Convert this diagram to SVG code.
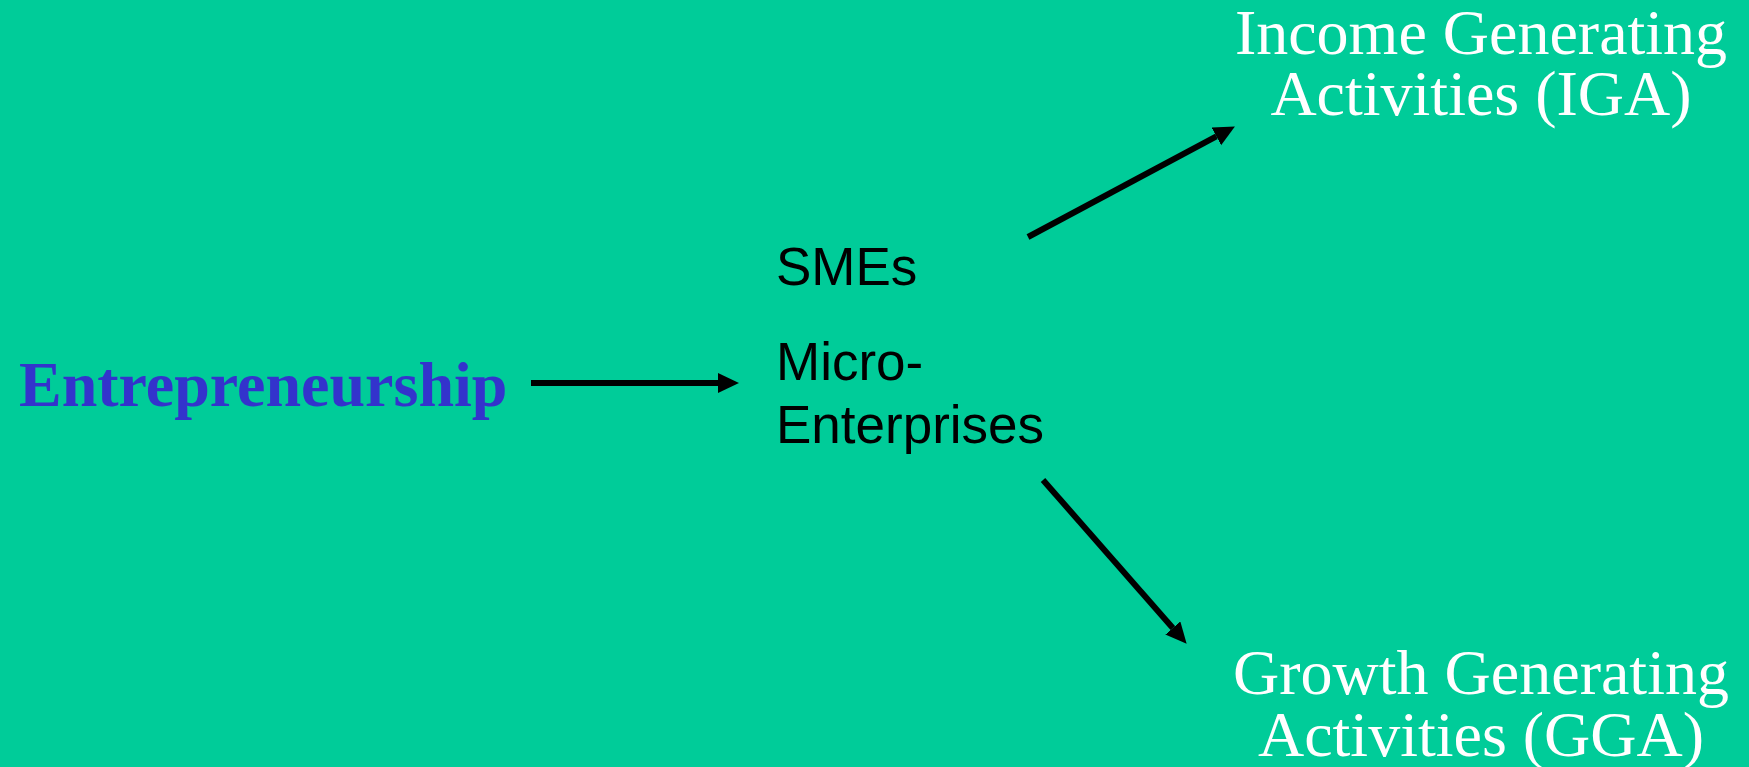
<svg xmlns="http://www.w3.org/2000/svg" width="1749" height="767" viewBox="0 0 1749 767">
  <style>
    .bg { fill: #00CC99; }
    .main { font-family: "Liberation Serif", "Times New Roman", serif; font-weight: bold; font-size: 64px; fill: #3333CC; }
    .mid { font-family: "Liberation Sans", Arial, sans-serif; font-size: 53px; fill: #000000; }
    .out { font-family: "Liberation Serif", "Times New Roman", serif; font-size: 64px; fill: #FFFFFF; text-anchor: middle; }
    .conn { stroke: #000000; stroke-width: 6; fill: none; marker-end: url(#head); }
  </style>
  <defs>
    <!-- arrowhead starts where the line stops, so the shaft never pokes past the tip -->
    <marker id="head" markerUnits="userSpaceOnUse" markerWidth="22" markerHeight="22" refX="0" refY="10" orient="auto">
      <path d="M0,0 L21,10 L0,20 Z" fill="#000000"/>
    </marker>
  </defs>

  <rect class="bg" x="0" y="0" width="1749" height="767"/>

  <g id="entrepreneurship">
    <text class="main" x="19" y="406">Entrepreneurship</text>
  </g>

  <g id="smes-micro">
    <text class="mid" x="776" y="285">SMEs</text>
    <text class="mid" x="776" y="380">Micro-</text>
    <text class="mid" x="776" y="443">Enterprises</text>
  </g>

  <g id="iga">
    <text class="out" x="1481" y="54">Income Generating</text>
    <text class="out" x="1481" y="115">Activities (IGA)</text>
  </g>

  <g id="gga">
    <text class="out" x="1481" y="694">Growth Generating</text>
    <text class="out" x="1481" y="756">Activities (GGA)</text>
  </g>

  <g id="connectors">
    <line class="conn" x1="531" y1="383" x2="718" y2="383"/>
    <line class="conn" x1="1028" y1="237" x2="1216.4" y2="136.4"/>
    <line class="conn" x1="1043" y1="480" x2="1172.8" y2="628"/>
  </g>
</svg>
